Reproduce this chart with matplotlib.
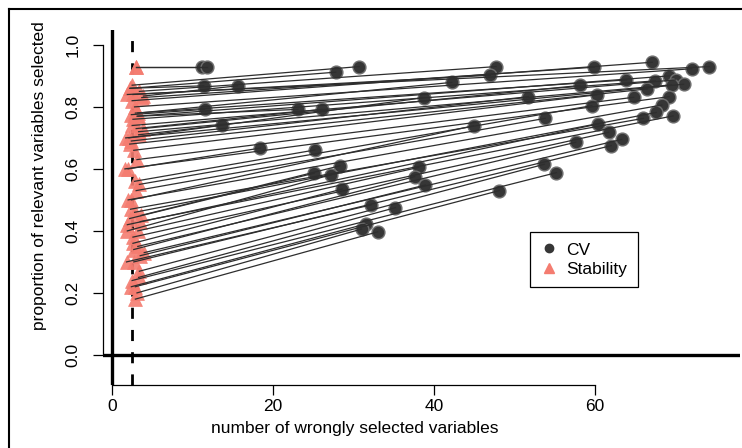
import numpy as np
import matplotlib
matplotlib.use("Agg")
from matplotlib import pyplot as plt
from matplotlib.lines import Line2D

plt.rcParams['font.family'] = ['Liberation Sans', 'DejaVu Sans']

# CV: number of wrongly selected variables / proportion of relevant ones selected
cv_x = [11.2, 11.8, 11.4, 15.6, 11.5, 23.1, 13.6, 18.4, 30.7, 27.8,
        47.7, 47.0, 42.2, 38.8, 26.1, 44.9, 25.2, 28.3, 25.1, 27.2,
        38.1, 37.6, 38.9, 28.6, 48.1, 32.2, 35.2, 31.6, 31.0, 33.0,
        67.1, 59.9, 72.0, 74.2, 69.2, 70.0, 71.0, 69.5, 67.5, 63.9,
        58.1, 66.5, 60.2, 69.2, 64.8, 51.7, 59.6, 68.3, 67.6, 69.7,
        66.0, 53.8, 60.4, 61.7, 57.6, 62.0, 63.3, 53.7, 55.2]
cv_y = [0.930, 0.930, 0.868, 0.868, 0.792, 0.792, 0.741, 0.667, 0.930, 0.912,
        0.930, 0.902, 0.879, 0.830, 0.792, 0.739, 0.661, 0.610, 0.586, 0.581,
        0.605, 0.575, 0.548, 0.535, 0.530, 0.484, 0.475, 0.423, 0.406, 0.397,
        0.944, 0.928, 0.923, 0.930, 0.900, 0.887, 0.873, 0.871, 0.884, 0.887,
        0.869, 0.858, 0.839, 0.833, 0.831, 0.833, 0.804, 0.806, 0.782, 0.771,
        0.763, 0.763, 0.745, 0.718, 0.686, 0.675, 0.695, 0.615, 0.588]

# Stability selection, same settings
stab_x = [3.0, 3.0, 2.2, 3.9, 2.4, 3.2, 3.3, 2.0, 2.5, 2.3,
          3.4, 2.6, 3.2, 2.1, 3.0, 2.4, 2.8, 3.6, 2.2, 1.9,
          3.2, 2.7, 3.5, 2.6, 2.9, 1.8, 3.3, 2.4, 3.1, 2.9,
          2.5, 3.7, 2.8, 1.9, 3.1, 2.5, 1.7, 3.3, 2.6, 2.9,
          3.8, 2.2, 2.7, 1.6, 3.1, 2.4, 3.4, 2.0, 2.8, 3.5,
          2.3, 3.0, 1.9, 2.6, 3.2, 2.7, 4.0, 3.4, 2.5]
stab_y = [0.930, 0.930, 0.860, 0.835, 0.775, 0.770, 0.710, 0.600, 0.870, 0.860,
          0.850, 0.840, 0.780, 0.700, 0.730, 0.500, 0.560, 0.450, 0.440, 0.400,
          0.400, 0.340, 0.320, 0.360, 0.220, 0.300, 0.250, 0.220, 0.200, 0.180,
          0.820, 0.830, 0.800, 0.840, 0.770, 0.740, 0.700, 0.720, 0.760, 0.780,
          0.730, 0.680, 0.660, 0.600, 0.630, 0.690, 0.550, 0.500, 0.460, 0.430,
          0.470, 0.530, 0.420, 0.380, 0.350, 0.300, 0.330, 0.270, 0.240]

cut_x = 2.5

W, H = 742, 448
fig = plt.figure(figsize=(W / 100, H / 100), dpi=100)
ax = fig.add_axes([103 / W, 63 / H, 637 / W, 355 / H])
ax.set_xlim(-1.12, 78.0)
ax.set_ylim(-0.097, 1.048)

ax.scatter(cv_x, cv_y, s=85, marker='o', facecolor='#363636',
           edgecolor='#707070', linewidth=1.0, zorder=3)
ax.scatter(stab_x, stab_y, s=100, marker='^', facecolor='#f47c70',
           edgecolor='#f47c70', linewidth=0.5, alpha=0.9, zorder=3)
for xs, ys, xc, yc in zip(stab_x, stab_y, cv_x, cv_y):
    ax.plot([xs, xc], [ys, yc], color='#2e2e2e', lw=0.9, zorder=4)

ax.axhline(0, color='black', lw=2.4, zorder=2)
ax.axvline(0, color='black', lw=2.4, zorder=2)
ax.axvline(cut_x, color='black', lw=2.0, ls=(0, (4, 4)), zorder=2)

# R-style axes: bounded spines, outward ticks
for s in ['top', 'right']:
    ax.spines[s].set_visible(False)
ax.spines['left'].set_bounds(0, 1)
ax.spines['bottom'].set_bounds(0, 60)
ax.spines['left'].set_linewidth(0.9)
ax.spines['bottom'].set_linewidth(0.9)
ax.set_xticks([0, 20, 40, 60])
ax.set_yticks([0.0, 0.2, 0.4, 0.6, 0.8, 1.0])
ax.set_yticklabels(['0.0', '0.2', '0.4', '0.6', '0.8', '1.0'], rotation=90, va='center')
ax.tick_params(direction='out', length=7, width=0.9, labelsize=12.5)
ax.tick_params(axis='x', pad=3)
ax.tick_params(axis='y', pad=9)

fig.text(355 / W, 1 - 428 / H, 'number of wrongly selected variables',
         ha='center', va='center', fontsize=12.5)
fig.text(40 / W, 1 - 176 / H, 'proportion of relevant variables selected',
         ha='center', va='center', rotation=90, fontsize=12.5)

handles = [Line2D([], [], marker='o', ls='none', color='#363636', ms=6),
           Line2D([], [], marker='^', ls='none', color='#f47c70', ms=7)]
leg = ax.legend(handles, ['CV', 'Stability'], loc='upper left',
                bbox_to_anchor=(530 / W, 1 - 232 / H), bbox_transform=fig.transFigure,
                fancybox=False, edgecolor='black', framealpha=1, fontsize=12.5,
                handlelength=1.0, handletextpad=0.5, borderpad=0.6,
                labelspacing=0.25, borderaxespad=0)
leg.get_frame().set_linewidth(0.9)

# figure frame
fig.add_artist(Line2D([9 / W, 9 / W], [0, 1 - 9 / H], color='black', lw=1.5))
fig.add_artist(Line2D([9 / W, 1], [1 - 9 / H, 1 - 9 / H], color='black', lw=1.5))

fig.savefig('out.png', dpi=100)
